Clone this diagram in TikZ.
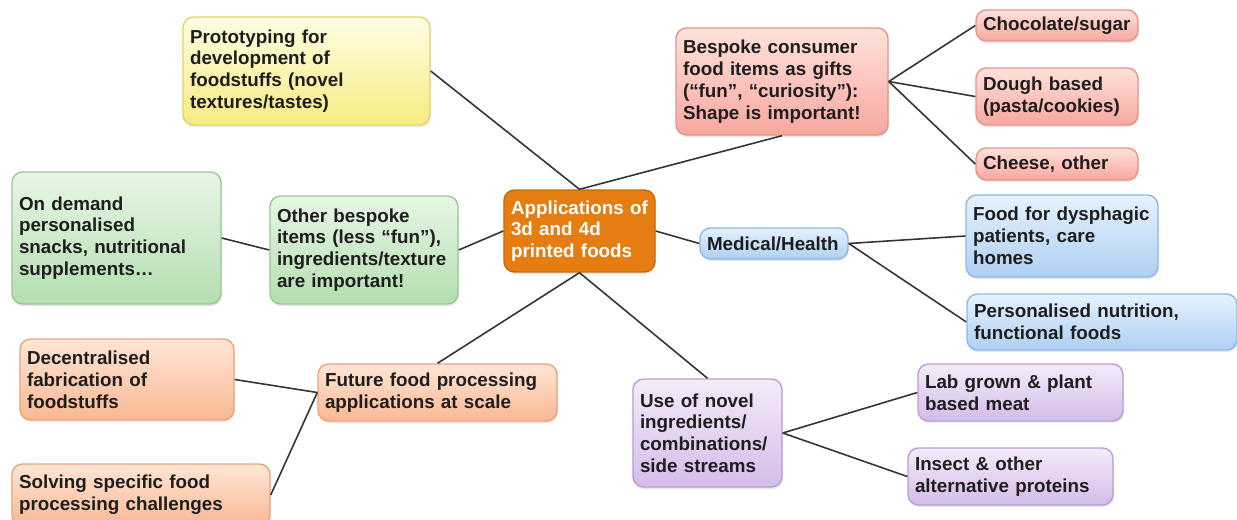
\documentclass[tikz,border=0pt]{standalone}
\usepackage{fontspec}
\setmainfont{Liberation Sans}
\usepackage{xcolor}
\usepackage{tikz}
\usetikzlibrary{shadows}
\hyphenpenalty=10000
\definecolor{ink}{HTML}{1E1E1E}
\definecolor{wire}{HTML}{333333}
\definecolor{yelT}{HTML}{FFFDE4}
\definecolor{yelB}{HTML}{F6EC82}
\definecolor{yelD}{HTML}{E2D46C}
\definecolor{redT}{HTML}{FFE2DC}
\definecolor{redB}{HTML}{F8A79F}
\definecolor{redD}{HTML}{E8938A}
\definecolor{bluT}{HTML}{E6F2FD}
\definecolor{bluB}{HTML}{AED0F4}
\definecolor{bluD}{HTML}{8DB8E6}
\definecolor{grnT}{HTML}{E8F6E6}
\definecolor{grnB}{HTML}{B4DEB0}
\definecolor{grnD}{HTML}{98C993}
\definecolor{salT}{HTML}{FFE6D6}
\definecolor{salB}{HTML}{F9B893}
\definecolor{salD}{HTML}{EDA27A}
\definecolor{purT}{HTML}{F5EBFA}
\definecolor{purB}{HTML}{D4BCE9}
\definecolor{purD}{HTML}{BA9CD6}
\definecolor{hub}{HTML}{E67D12}
\definecolor{hubD}{HTML}{C86A0C}
\tikzset{
  card/.style={rounded corners=6pt, line width=0.8pt, align=left, inner xsep=4pt,
    inner ysep=2pt, text=ink, font=\fontsize{10.7}{12.4}\selectfont\bfseries,
    drop shadow={opacity=0.18, shadow xshift=0.5pt, shadow yshift=-1.2pt}},
  yel/.style={card, draw=yelD, top color=yelT, bottom color=yelB},
  red/.style={card, draw=redD, top color=redT, bottom color=redB},
  blu/.style={card, draw=bluD, top color=bluT, bottom color=bluB},
  grn/.style={card, draw=grnD, top color=grnT, bottom color=grnB},
  sal/.style={card, draw=salD, top color=salT, bottom color=salB},
  pur/.style={card, draw=purD, top color=purT, bottom color=purB},
  core/.style={card, draw=hubD, fill=hub, text=white},
  link/.style={draw=wire, line width=0.9pt},
}
\begin{document}
\begin{tikzpicture}[x=0.02cm, y=-0.02cm]
  \useasboundingbox (0,0) rectangle (1237,520);
  % centre
  \node[core, text width=2.74cm, minimum height=1.64cm] (apps) at (579.5,231)
    {Applications of\\3d and 4d\\printed foods};
  % upper branches
  \node[yel, text width=4.66cm, minimum height=2.16cm] (proto) at (306.5,71)
    {Prototyping for\\development of\\foodstuffs (novel\\textures/tastes)};
  \node[red, text width=3.96cm, minimum height=2.14cm] (gifts) at (782,81.5)
    {Bespoke consumer\\food items as gifts\\(“fun”, “curiosity”):\\Shape is important!};
  \node[red, text width=2.96cm, minimum height=0.62cm] (choc) at (1057,25.5) {Chocolate/sugar};
  \node[red, text width=2.96cm, minimum height=1.14cm] (dough) at (1057,96.5) {Dough based\\(pasta/cookies)};
  \node[red, text width=2.96cm, minimum height=0.64cm] (cheese) at (1057,164) {Cheese, other};
  % health
  \node[blu, text width=2.68cm, minimum height=0.62cm] (med) at (774,243.5) {Medical/Health};
  \node[blu, text width=3.56cm, minimum height=1.64cm] (dysph) at (1062,236)
    {Food for dysphagic\\patients, care\\homes};
  \node[blu, text width=5.12cm, minimum height=1.12cm] (pnut) at (1102,322)
    {Personalised nutrition,\\functional foods};
  % left
  \node[grn, text width=3.48cm, minimum height=2.16cm] (other) at (364,250)
    {Other bespoke\\items (less “fun”),\\ingredients/texture\\are important!};
  \node[grn, text width=3.90cm, minimum height=2.64cm] (ondem) at (116.5,238)
    {On demand\\personalised\\snacks, nutritional\\supplements…};
  % processing
  \node[sal, text width=4.50cm, minimum height=1.14cm] (scale) at (437.5,392.5)
    {Future food processing\\applications at scale};
  \node[sal, text width=4.00cm, minimum height=1.62cm] (decen) at (127,379.5)
    {Decentralised\\fabrication of\\foodstuffs};
  \node[sal, text width=4.88cm, minimum height=1.24cm] (solve) at (141,495)
    {Solving specific food\\processing challenges};
  % ingredients
  \node[pur, text width=2.70cm, minimum height=2.16cm] (novel) at (707.5,433)
    {Use of novel\\ingredients/\\combinations/\\side streams};
  \node[pur, text width=3.82cm, minimum height=1.14cm] (meat) at (1020.5,392.5)
    {Lab grown \& plant\\based meat};
  \node[pur, text width=3.82cm, minimum height=1.14cm] (insect) at (1010.5,476.5)
    {Insect \& other\\alternative proteins};
  % connectors
  \draw[link] (apps.north) -- (proto.east);
  \draw[link] (apps.north) -- (gifts.south);
  \draw[link] (gifts.east) -- (choc.west);
  \draw[link] (gifts.east) -- (dough.west);
  \draw[link] (gifts.east) -- (cheese.west);
  \draw[link] (apps.east) -- (med.west);
  \draw[link] (med.east) -- (dysph.west);
  \draw[link] (med.east) -- (pnut.west);
  \draw[link] (apps.west) -- (other.east);
  \draw[link] (other.west) -- (ondem.east);
  \draw[link] (apps.south) -- (scale.north);
  \draw[link] (apps.south) -- (novel.north);
  \draw[link] (scale.west) -- (decen.east);
  \draw[link] (scale.west) -- (solve.east);
  \draw[link] (novel.east) -- (meat.west);
  \draw[link] (novel.east) -- (insect.west);
\end{tikzpicture}
\end{document}
